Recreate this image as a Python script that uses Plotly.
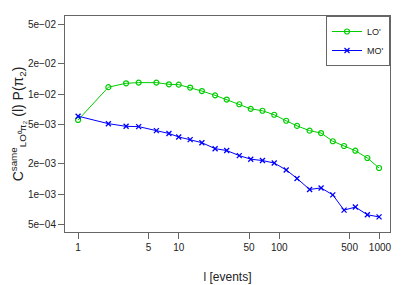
import plotly.graph_objects as go

events = [1, 2, 3, 4, 6, 8, 10, 13, 17, 23, 30, 40, 52, 68, 89, 117, 150, 200, 260, 340, 440, 570, 750, 980]
lo_vals = [5.5e-3, 1.17e-2, 1.28e-2, 1.30e-2, 1.30e-2, 1.25e-2, 1.24e-2, 1.16e-2, 1.07e-2, 9.7e-3, 8.8e-3, 7.9e-3,
           7.1e-3, 6.8e-3, 6.2e-3, 5.4e-3, 4.8e-3, 4.3e-3, 4.07e-3, 3.37e-3, 3.02e-3, 2.71e-3, 2.29e-3, 1.82e-3]
mo_vals = [6.0e-3, 5.05e-3, 4.75e-3, 4.72e-3, 4.3e-3, 4.03e-3, 3.72e-3, 3.5e-3, 3.26e-3, 2.84e-3, 2.72e-3, 2.42e-3,
           2.23e-3, 2.16e-3, 2.04e-3, 1.74e-3, 1.43e-3, 1.11e-3, 1.15e-3, 9.8e-4, 6.9e-4, 7.4e-4, 6.2e-4, 5.9e-4]
series_names = ["LO'", "MO'"]
x_ticks = [1, 5, 10, 50, 100, 500, 1000]
y_ticks = [5e-4, 1e-3, 2e-3, 5e-3, 1e-2, 2e-2, 5e-2]
y_ticktext = ["5e\u221204", "1e\u221203", "2e\u221203", "5e\u221203", "1e\u221202", "2e\u221202", "5e\u221202"]

font = "Liberation Sans, Arial, sans-serif"

fig = go.Figure()
fig.add_trace(go.Scatter(x=events, y=lo_vals, name=series_names[0], mode="lines+markers",
                         line=dict(color="#00CD00", width=1),
                         marker=dict(symbol="circle-open", size=5, color="#00CD00", line=dict(width=1.2))))
fig.add_trace(go.Scatter(x=events, y=mo_vals, name=series_names[1], mode="lines+markers",
                         line=dict(color="#0000FF", width=1),
                         marker=dict(symbol="x-thin-open", size=5, color="#0000FF", line=dict(width=1.3, color="#0000FF"))))

axis_common = dict(showline=True, mirror=True, linecolor="#666666", linewidth=1, ticks="outside",
                   tickcolor="#666666", ticklen=6, showgrid=False, zeroline=False, automargin=False,
                   tickfont=dict(family=font, size=10, color="#222222"))

fig.update_layout(
    width=399, height=277,
    margin=dict(l=57, r=17, t=8, b=53),
    paper_bgcolor="white", plot_bgcolor="white",
    font=dict(family=font, color="#222222"),
    xaxis=dict(type="log", range=[-0.13, 3.1], tickvals=x_ticks, ticktext=[str(v) for v in x_ticks],
               title=dict(text="l [events]", font=dict(size=12), standoff=20), **axis_common),
    yaxis=dict(type="log", range=[-3.38, -1.22], tickvals=y_ticks, ticktext=y_ticktext,
               title=dict(text="C<sup>same</sup><sub>LO\u2070\u03c0\u2082</sub> (l) P(\u03c0<sub>2</sub>)",
                          font=dict(size=14), standoff=5), **axis_common),
    legend=dict(x=1, y=1, xanchor="right", yanchor="top", bordercolor="#666666", borderwidth=1,
                bgcolor="white", font=dict(size=9), itemwidth=30, tracegroupgap=0,
                entrywidth=20),
    showlegend=True,
)

fig.write_html("out.html")
